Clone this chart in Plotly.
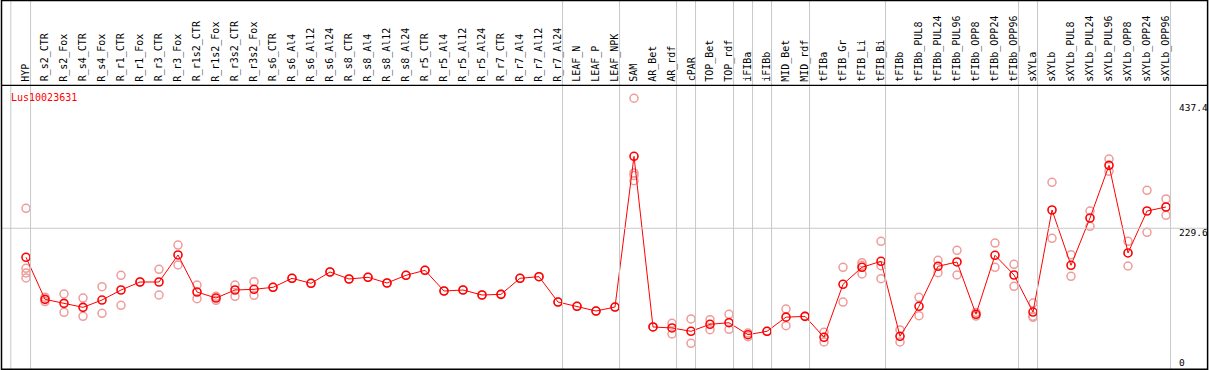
import plotly.graph_objects as go

# ---------------- data ----------------
categories = [
    "HYP", "R_s2_CTR", "R_s2_Fox", "R_s4_CTR", "R_s4_Fox", "R_r1_CTR", "R_r1_Fox",
    "R_r3_CTR", "R_r3_Fox", "R_r1s2_CTR", "R_r1s2_Fox", "R_r3s2_CTR", "R_r3s2_Fox",
    "R_s6_CTR", "R_s6_Al4", "R_s6_Al12", "R_s6_Al24", "R_s8_CTR", "R_s8_Al4",
    "R_s8_Al12", "R_s8_Al24", "R_r5_CTR", "R_r5_Al4", "R_r5_Al12", "R_r5_Al24",
    "R_r7_CTR", "R_r7_Al4", "R_r7_Al12", "R_r7_Al24", "LEAF_N", "LEAF_P", "LEAF_NPK",
    "SAM", "AR_Bet", "AR_rdf", "cPAR", "TOP_Bet", "TOP_rdf", "iFIBa", "iFIBb",
    "MID_Bet", "MID_rdf", "tFIBa", "tFIB_Gr", "tFIB_Li", "tFIB_Bi", "tFIBb",
    "tFIBb_PUL8", "tFIBb_PUL24", "tFIBb_PUL96", "tFIBb_OPP8", "tFIBb_OPP24",
    "tFIBb_OPP96", "sXYLa", "sXYLb", "sXYLb_PUL8", "sXYLb_PUL24", "sXYLb_PUL96",
    "sXYLb_OPP8", "sXYLb_OPP24", "sXYLb_OPP96",
]

means = [
    183.2, 116.0, 109.6, 103.2, 114.9, 130.9, 143.7, 143.7, 186.9, 127.7, 118.1,
    130.9, 132.0, 135.2, 149.6, 141.6, 159.7, 148.5, 151.2, 142.1, 154.4, 162.4,
    129.3, 130.9, 122.9, 124.0, 149.6, 152.2, 111.7, 104.9, 97.3, 103.7, 344.6,
    71.8, 70.2, 64.9, 76.1, 78.6, 59.5, 64.9, 87.5, 88.8, 55.3, 140.0, 167.2,
    176.8, 56.9, 104.9, 168.8, 175.7, 92.1, 186.4, 154.9, 95.7, 258.8, 170.4,
    246.0, 330.2, 190.1, 257.2, 263.6,
]

replicates = [
    [261.5, 165.6, 158.1, 150.1], [119.5, 112.5], [124.5, 95.2], [118.1, 88.8],
    [136.2, 93.6], [154.4, 106.4], [143.7], [164.0, 122.9], [202.8, 170.9],
    [138.9, 117.0], [120.8, 114.4], [138.9, 120.8], [144.2, 122.4],
    [135.2], [149.6], [141.6], [159.7], [148.5], [151.2], [142.1], [154.4],
    [162.4], [129.3], [130.9], [122.9], [124.0], [149.6], [152.2], [111.7],
    [104.9], [97.3], [103.7],
    [437.4, 318.0, 314.0, 305.6], [71.8], [77.7, 60.6], [84.6, 45.7],
    [83.4, 67.5], [92.1, 68.1], [62.0, 56.3], [64.9], [100.5, 73.9], [88.8],
    [63.3, 47.8], [167.2, 111.7], [174.6, 170.5, 156.5], [208.8, 169.8, 149.0],
    [67.0, 47.8], [119.2, 89.8], [178.4, 158.6], [194.4, 154.9], [95.0, 89.3],
    [206.0, 167.2], [172.0, 136.8], [110.1, 89.0, 87.3], [303.1, 213.6],
    [187.3, 152.8], [257.2, 232.7], [340.3, 320.6], [208.8, 169.3],
    [290.3, 223.1], [276.4, 250.3],
]

# index of the last category of each group (-1 = before the first one)
group_ends = [-1, 0, 28, 31, 34, 35, 37, 38, 39, 41, 45, 52, 53, 60]

gene_name = "Lus10023631"
ytick_values = ["437.4", "229.6", "0"]
ref_line_value = 229.6

# ---------------- layout helpers ----------------
W, H = 1209, 370
X0_PIX, X_STEP = 26.0, 19.0          # pixel of first category, spacing
Y_ZERO_PIX, Y_SCALE = 371.9, 0.6256  # pixel of value 0, px per unit


def px(p):
    return p / W


def py(p):
    return 1 - p / H


xs = list(range(len(categories)))
rep_x, rep_y = [], []
for i, vals in enumerate(replicates):
    for v in vals:
        rep_x.append(i)
        rep_y.append(v)

fig = go.Figure()
fig.add_trace(go.Scatter(
    x=rep_x, y=rep_y, mode="markers",
    marker=dict(symbol="circle-open", size=8, color="#ef9b9b",
                line=dict(width=1.5, color="#ef9b9b")),
    cliponaxis=False, hoverinfo="skip", showlegend=False,
))
fig.add_trace(go.Scatter(
    x=xs, y=means, mode="lines+markers",
    line=dict(color="#ff0000", width=1),
    marker=dict(symbol="circle-open", size=8, color="#ff0000",
                line=dict(width=1.6, color="#ff0000")),
    cliponaxis=False, showlegend=False,
))

shapes = []
# group separators
for g in group_ends:
    off = 0.2 if g < 0 else 0.24
    shapes.append(dict(type="line", xref="x", yref="paper",
                       x0=g + off, x1=g + off, y0=py(0), y1=py(369),
                       line=dict(color="#c8c8c8", width=1)))
# horizontal reference line
shapes.append(dict(type="line", xref="paper", yref="y",
                   x0=px(2), x1=px(1207), y0=ref_line_value, y1=ref_line_value,
                   line=dict(color="#c8c8c8", width=1)))
# header separator
shapes.append(dict(type="line", xref="paper", yref="paper",
                   x0=px(1.5), x1=px(1207.5), y0=py(85.3), y1=py(85.3),
                   line=dict(color="black", width=1.3)))
# outer border
shapes.append(dict(type="rect", xref="paper", yref="paper",
                   x0=px(1.5), x1=px(1207.6), y0=py(369.2), y1=py(0.6),
                   line=dict(color="black", width=1.5)))

annotations = []
mono = "DejaVu Sans Mono"
for i, c in enumerate(categories):
    annotations.append(dict(
        x=i, y=py(83.8), xref="x", yref="paper", text=c, textangle=-90,
        xanchor="center", yanchor="bottom", showarrow=False,
        font=dict(family=mono, size=10, color="black"),
    ))
annotations.append(dict(
    x=px(9), y=py(97), xref="paper", yref="paper", text=gene_name,
    xanchor="left", yanchor="middle", showarrow=False,
    font=dict(family=mono, size=10, color="#ff0000"),
))
for txt, ypix in zip(ytick_values, [107.5, 232.5, 362.3]):
    annotations.append(dict(
        x=px(1177), y=py(ypix), xref="paper", yref="paper", text=txt,
        xanchor="left", yanchor="middle", showarrow=False,
        font=dict(family=mono, size=9.5, color="black"),
    ))

fig.update_layout(
    width=W, height=H,
    margin=dict(l=0, r=0, t=0, b=0, pad=0),
    paper_bgcolor="white", plot_bgcolor="white",
    xaxis=dict(range=[(0 - X0_PIX) / X_STEP, (W - X0_PIX) / X_STEP],
               visible=False, domain=[0, 1]),
    yaxis=dict(range=[(Y_ZERO_PIX - H) / Y_SCALE, Y_ZERO_PIX / Y_SCALE],
               visible=False, domain=[0, 1]),
    shapes=shapes, annotations=annotations,
)

fig.write_html(
    "out.html",
    config={"displayModeBar": False},
    post_script="document.body.style.margin='0';document.body.style.overflow='hidden';",
)
